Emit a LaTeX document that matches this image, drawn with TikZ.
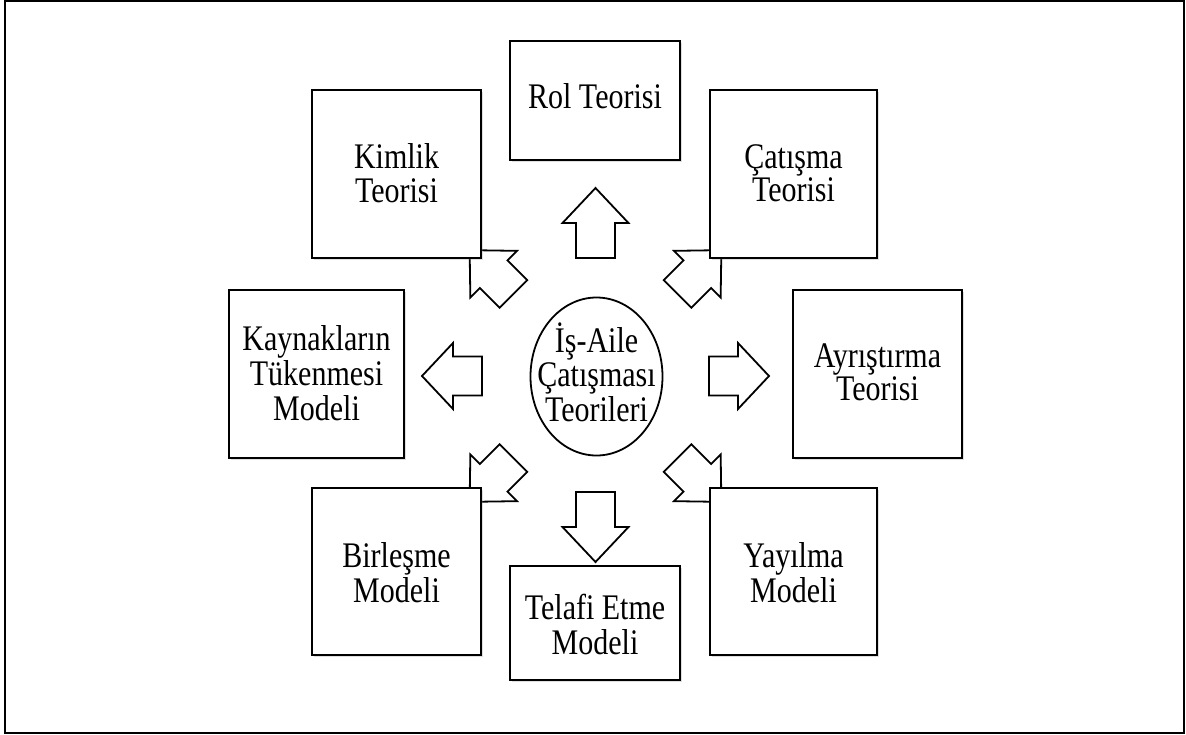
\documentclass[tikz,border=0pt]{standalone}
\usepackage{graphicx}
\usepackage{fontspec}
\setmainfont{Liberation Serif}
\usetikzlibrary{shadows,shapes.geometric}
% centred, vertically stretched multi-line label, lowered by the optional amount
\newcommand{\tallstack}[2][4pt]{\raisebox{-#1}[\height][\depth]{\scalebox{1}[1.2]{%
  \fontsize{30}{27}\selectfont\begin{tabular}{@{}c@{}}#2\end{tabular}}}}
\begin{document}
\begin{tikzpicture}[x=1pt,y=-1pt,
  box/.style={draw, line width=1.8pt, fill=white, inner sep=0pt,
    drop shadow={shadow xshift=1.5pt, shadow yshift=-2pt, opacity=0.25}},
  lbl/.style={inner sep=0pt},
  blockarrow/.style={draw, line width=1.8pt, fill=white, line join=miter}]
\useasboundingbox (0,0) rectangle (1186,734);
\draw[line width=1.6pt] (5,1) rectangle (1184,733);

% hub
\coordinate (c) at (595.5,376);

% block arrows radiating from the hub: angle / start radius / length / head length
\foreach \ang/\r/\L/\h in {0/113.5/60/31, 180/113.5/60/31, 90/118/70/35, 270/116/70/35,
                           45/116/62/34, 135/116/62/34, 225/116/62/34, 315/116/62/34}
  \draw[blockarrow, shift={(c)}, rotate=\ang]
    (\r,-19.5) -- (\r+\L-\h,-19.5) -- (\r+\L-\h,-33) -- (\r+\L,0)
    -- (\r+\L-\h,33) -- (\r+\L-\h,19.5) -- (\r,19.5) -- cycle;

% theory boxes
\node[box, minimum width=170pt, minimum height=119pt] (rol) at (595,100.5) {\tallstack[0pt]{Rol Teorisi}};
\node[box, minimum width=169pt, minimum height=168pt] (kimlik) at (396.5,174) {\tallstack{Kimlik\\Teorisi}};
\node[box, minimum width=167pt, minimum height=168pt] (catisma) at (793.5,174) {\tallstack{Çatışma\\Teorisi}};
\node[box, minimum width=175pt, minimum height=168pt] (kaynak) at (316.5,374) {\tallstack{Kaynakların\\Tükenmesi\\Modeli}};
\node[box, minimum width=169pt, minimum height=168pt] (ayrist) at (877.5,374) {\tallstack[3pt]{Ayrıştırma\\Teorisi}};
\node[box, minimum width=169pt, minimum height=167pt] (birles) at (396.5,571.5) {\tallstack[6pt]{Birleşme\\Modeli}};
\node[box, minimum width=167pt, minimum height=167pt] (yayil) at (793.5,571.5) {\tallstack[6pt]{Yayılma\\Modeli}};
\node[box, minimum width=170pt, minimum height=114pt] (telafi) at (595,623) {\tallstack[6pt]{Telafi Etme\\Modeli}};

% central node
\node[ellipse, draw, line width=1.8pt, fill=white, minimum width=132pt, minimum height=158pt,
      inner sep=0pt] (hub) at (596.5,376.5) {};
\node[lbl] (hubtxt) at (596.5,375) {\tallstack[2pt]{İş-Aile\\Çatışması\\Teorileri}};
\end{tikzpicture}
\end{document}
